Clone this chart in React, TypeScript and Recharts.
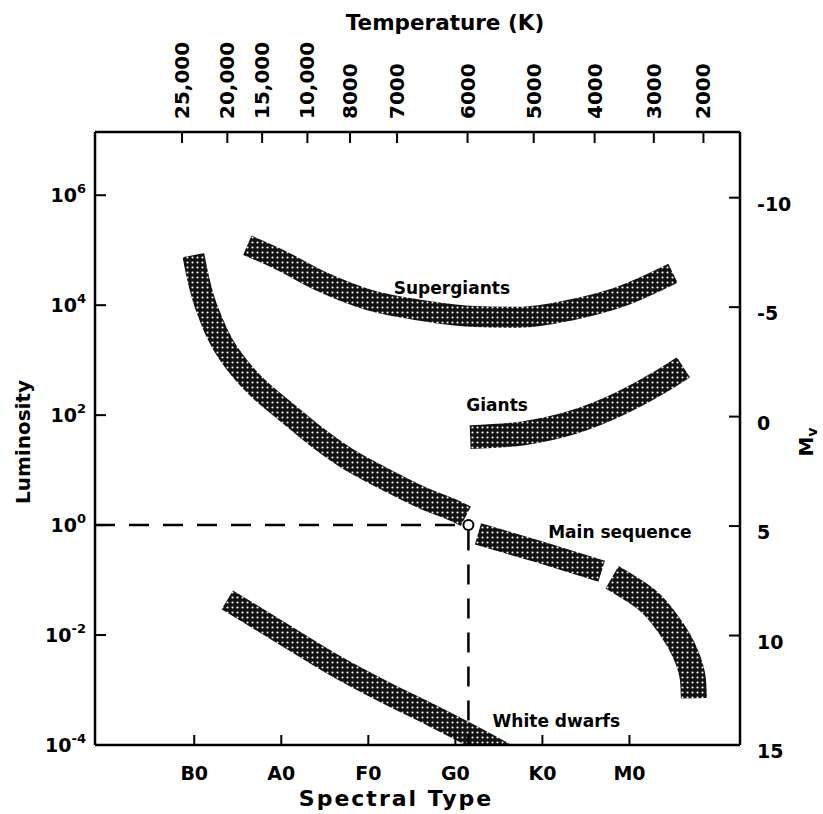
import React from 'react';
import { ComposedChart, Line, XAxis, YAxis, ReferenceLine, ReferenceDot } from 'recharts';

const FONT = "'DejaVu Sans', 'Liberation Sans', sans-serif";

// ---- axis ticks ----
const spectralTicks = [1, 2, 3, 4, 5, 6];
const spectralLabels = ['B0', 'A0', 'F0', 'G0', 'K0', 'M0'];
const tempTickPositions = [0.86, 1.38, 1.78, 2.3, 2.79, 3.33, 4.14, 4.9, 5.6, 6.28, 6.85];
const tempLabels = ['25,000', '20,000', '15,000', '10,000', '8000', '7000', '6000', '5000', '4000', '3000', '2000'];
const lumExponents = [-4, -2, 0, 2, 4, 6];
const mvTicks = [-10, -5, 0, 5, 10, 15];

// ---- bands: x = spectral index (B0 = 1 ... M0 = 6), y = log10 L ----
const mainSeqUpperX = [0.99, 1.14, 1.39, 1.72, 2.07, 2.41, 2.79, 3.21, 3.63, 4.02, 4.12];
const mainSeqUpperLogL = [4.91, 3.96, 3.13, 2.51, 2.04, 1.6, 1.18, 0.82, 0.49, 0.24, 0.16];
const mainSeqMiddleX = [4.26, 4.97, 5.68];
const mainSeqMiddleLogL = [-0.16, -0.49, -0.84];
const mainSeqLowerX = [5.8, 6.2, 6.47, 6.64, 6.73, 6.74];
const mainSeqLowerLogL = [-0.95, -1.36, -1.86, -2.33, -2.82, -3.15];
const supergiantX = [1.61, 1.99, 2.45, 3.02, 3.59, 4.17, 4.74, 5.32, 5.89, 6.5];
const supergiantLogL = [5.09, 4.82, 4.44, 4.09, 3.91, 3.8, 3.78, 3.91, 4.15, 4.58];
const giantX = [4.17, 4.78, 5.35, 5.93, 6.35, 6.62];
const giantLogL = [1.6, 1.67, 1.87, 2.24, 2.6, 2.87];
const whiteDwarfX = [1.38, 1.99, 2.59, 3.19, 3.74, 4.17, 4.74];
const whiteDwarfLogL = [-1.36, -1.95, -2.53, -3.04, -3.47, -3.82, -4.31];

// the Sun
const sunX = 4.15;
const sunLogL = 0;

const X_DOMAIN: [number, number] = [-0.14, 7.27];
const Y_DOMAIN: [number, number] = [-4, 7.15];
const MV_DOMAIN: [number, number] = [-13, 15];

const toPoints = (xs: number[], ys: number[]) => xs.map((x, i) => ({ x, y: ys[i] }));

const bands = [
  { key: 'supergiants', data: toPoints(supergiantX, supergiantLogL), width: 21, curve: 'monotone' },
  { key: 'giants', data: toPoints(giantX, giantLogL), width: 24, curve: 'monotone' },
  { key: 'msUpper', data: toPoints(mainSeqUpperX, mainSeqUpperLogL), width: 22, curve: 'monotoneY' },
  { key: 'msMiddle', data: toPoints(mainSeqMiddleX, mainSeqMiddleLogL), width: 22, curve: 'monotone' },
  { key: 'msLower', data: toPoints(mainSeqLowerX, mainSeqLowerLogL), width: 26, curve: 'monotoneY' },
  { key: 'whiteDwarfs', data: toPoints(whiteDwarfX, whiteDwarfLogL), width: 22, curve: 'monotone' },
];

const labels = [
  { text: 'Supergiants', x: 3.96, y: 4.31 },
  { text: 'Giants', x: 4.48, y: 2.18 },
  { text: 'Main sequence', x: 5.89, y: -0.13 },
  { text: 'White dwarfs', x: 5.16, y: -3.56 },
];

const txt = { fontFamily: FONT, fontWeight: 'bold' as const, fill: '#000' };
const axisLineStyle = { stroke: '#000', strokeWidth: 2.5 };
const tickLineStyle = { stroke: '#000', strokeWidth: 2 };

const LeftTick = (props: any) => {
  const { x, y, payload } = props;
  return (
    <text x={x} y={y + 7} textAnchor="end" fontSize={19} {...txt}>
      <tspan>10</tspan>
      <tspan dy={-9} fontSize={13}>{String(payload.value)}</tspan>
    </text>
  );
};

const RightTick = (props: any) => {
  const { x, y, payload } = props;
  return (
    <text x={x} y={y + 13} textAnchor="start" fontSize={19} {...txt}>
      {String(payload.value)}
    </text>
  );
};

const BottomTick = (props: any) => {
  const { x, y, payload } = props;
  const i = spectralTicks.indexOf(payload.value);
  return (
    <text x={x} y={y + 7} textAnchor="middle" fontSize={19} {...txt}>
      {spectralLabels[i]}
    </text>
  );
};

const TopTick = (props: any) => {
  const { x, y, payload } = props;
  const i = tempTickPositions.indexOf(payload.value);
  return (
    <text
      x={x}
      y={y}
      transform={`rotate(-90 ${x} ${y})`}
      textAnchor="start"
      dominantBaseline="central"
      fontSize={20}
      {...txt}
    >
      {tempLabels[i]}
    </text>
  );
};

export default function App() {
  return (
    <div style={{ position: 'absolute', left: 0, top: 0, width: 823, height: 814, background: '#fff', overflow: 'hidden' }}>
      <ComposedChart width={823} height={814} margin={{ top: 32, right: 23, bottom: 24, left: 35 }}>
        <defs>
          <pattern id="halftone" width={5} height={5} patternUnits="userSpaceOnUse">
            <rect width={5} height={5} fill="#121212" />
            <circle cx={2.5} cy={2.5} r={1.05} fill="#ffffff" />
          </pattern>
        </defs>
        <XAxis
          xAxisId="bottom"
          type="number"
          dataKey="x"
          domain={X_DOMAIN}
          allowDataOverflow
          ticks={spectralTicks}
          interval={0}
          height={45}
          tickSize={-10}
          tickMargin={38}
          axisLine={axisLineStyle}
          tickLine={tickLineStyle}
          tick={<BottomTick />}
          label={{
            content: () => (
              <text x={396} y={806} textAnchor="middle" fontSize={22} letterSpacing={2} {...txt}>
                Spectral Type
              </text>
            ),
          }}
        />
        <XAxis
          xAxisId="top"
          orientation="top"
          type="number"
          dataKey="x"
          domain={X_DOMAIN}
          allowDataOverflow
          ticks={tempTickPositions}
          interval={0}
          height={100}
          tickSize={-11}
          tickMargin={24}
          axisLine={axisLineStyle}
          tickLine={tickLineStyle}
          tick={<TopTick />}
          label={{
            content: () => (
              <text x={445} y={30} textAnchor="middle" fontSize={21.5} {...txt}>
                Temperature (K)
              </text>
            ),
          }}
        />
        <YAxis
          yAxisId="left"
          type="number"
          domain={Y_DOMAIN}
          allowDataOverflow
          ticks={lumExponents}
          interval={0}
          width={60}
          tickSize={-11}
          tickMargin={20}
          axisLine={axisLineStyle}
          tickLine={tickLineStyle}
          tick={<LeftTick />}
          label={{
            content: () => (
              <text
                x={23}
                y={442}
                transform="rotate(-90 23 442)"
                textAnchor="middle"
                dominantBaseline="central"
                fontSize={20}
                {...txt}
              >
                Luminosity
              </text>
            ),
          }}
        />
        <YAxis
          yAxisId="right"
          orientation="right"
          type="number"
          domain={MV_DOMAIN}
          reversed
          allowDataOverflow
          ticks={mvTicks}
          interval={0}
          width={60}
          tickSize={-11}
          tickMargin={28}
          axisLine={axisLineStyle}
          tickLine={tickLineStyle}
          tick={<RightTick />}
          label={{
            content: () => (
              <text
                x={806}
                y={442}
                transform="rotate(-90 806 442)"
                textAnchor="middle"
                dominantBaseline="central"
                fontSize={20}
                {...txt}
              >
                M
                <tspan dy={6} fontSize={14}>v</tspan>
              </text>
            ),
          }}
        />

        {bands.map((b) => (
          <Line
            key={b.key}
            data={b.data}
            xAxisId="bottom"
            yAxisId="left"
            dataKey="y"
            type={b.curve as any}
            stroke="url(#halftone)"
            strokeWidth={b.width}
            strokeLinecap="butt"
            strokeLinejoin="round"
            dot={false}
            activeDot={false}
            isAnimationActive={false}
            legendType="none"
          />
        ))}

        <ReferenceLine
          xAxisId="bottom"
          yAxisId="left"
          segment={[
            { x: X_DOMAIN[0], y: sunLogL },
            { x: sunX - 0.065, y: sunLogL },
          ]}
          stroke="#000"
          strokeWidth={2.5}
          strokeDasharray="20 14"
        />
        <ReferenceLine
          xAxisId="bottom"
          yAxisId="left"
          segment={[
            { x: sunX, y: sunLogL - 0.1 },
            { x: sunX, y: Y_DOMAIN[0] },
          ]}
          stroke="#000"
          strokeWidth={2.5}
          strokeDasharray="20 14"
        />
        <ReferenceDot
          xAxisId="bottom"
          yAxisId="left"
          x={sunX}
          y={sunLogL}
          r={5}
          fill="#fff"
          stroke="#000"
          strokeWidth={2}
        />
        {labels.map((l) => (
          <ReferenceDot
            key={l.text}
            xAxisId="bottom"
            yAxisId="left"
            x={l.x}
            y={l.y}
            r={0}
            shape={(p: any) => (
              <text x={p.cx} y={p.cy} textAnchor="middle" dominantBaseline="central" fontSize={17} {...txt}>
                {l.text}
              </text>
            )}
          />
        ))}
      </ComposedChart>
    </div>
  );
}
